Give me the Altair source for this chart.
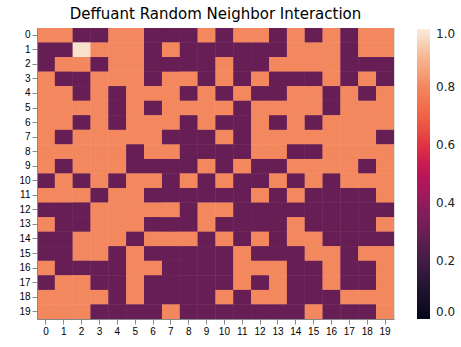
import altair as alt
import pandas as pd

TITLE = "Deffuant Random Neighbor Interaction"

# Opinion level of each agent on the 20x20 lattice:
# h = high cluster, l = low cluster, x = outlier agent
opinion_levels = {"h": 0.80, "l": 0.29, "x": 0.98}

grid_rows = [
    "hhllhhlllh" "lhhlhlhlhh",
    "llxhhhlhll" "llllhhhlhh",
    "lhhlhhllll" "hllhhhhlll",
    "hllhhhlhhl" "hlhlllhlhl",
    "hhlhlhhhlh" "lhllhhlhlh",
    "hhhhlhlhhh" "hlhhhhlhhh",
    "hhlhlhhhlh" "llhlhlhhhh",
    "hlhhhhhlll" "hlhhhhhhhl",
    "hhhhhlhhll" "llhhllhhhh",
    "hlhhhllllh" "lhllhhhhlh",
    "lhlhlhhlhl" "hllhlhlhhh",
    "hhhlhhllll" "llhlhllllh",
    "lllhhhhhlh" "hlllllllll",
    "hllhhhlllh" "llllhllllh",
    "llhhhlhhhl" "hlhlhhllll",
    "llhhlhllll" "lhlllhhlhh",
    "hllllhhlll" "lhhhllhllh",
    "lhhllhllll" "lhlhllhllh",
    "hhhhlhllll" "hlhhlllhhh",
    "hhhllllhll" "lllllhlllh",
]

row_labels = list(range(20))
col_labels = list(range(20))
colorbar_ticks = [0.0, 0.2, 0.4, 0.6, 0.8, 1.0]

# "rocket"-style sequential colour ramp
ramp_stops = [0.0, 0.1, 0.2, 0.3, 0.4, 0.5, 0.6, 0.7, 0.8, 0.9, 1.0]
ramp_colors = [
    "#03051a", "#1f1330", "#431b45", "#6a1e56", "#921b5c", "#bb1657",
    "#e13342", "#f06245", "#f3875e", "#f6b591", "#faebdd",
]

records = []
for r, line in zip(row_labels, grid_rows):
    for c, code in zip(col_labels, line):
        records.append({"row": r, "col": c, "opinion": opinion_levels[code]})
df = pd.DataFrame(records)

FONT = "DejaVu Sans"
TEXT = "#222222"

base = alt.Chart(df).mark_rect().encode(
    x=alt.X(
        "col:O",
        sort=col_labels,
        title=None,
        scale=alt.Scale(paddingInner=0, paddingOuter=0),
        axis=alt.Axis(labelAngle=0, orient="bottom"),
    ),
    y=alt.Y(
        "row:O",
        sort=row_labels,
        title=None,
        scale=alt.Scale(paddingInner=0, paddingOuter=0),
        axis=alt.Axis(orient="left"),
    ),
    color=alt.Color(
        "opinion:Q",
        scale=alt.Scale(domain=ramp_stops, range=ramp_colors),
        legend=alt.Legend(
            type="gradient",
            orient="none",
            legendX=380,
            legendY=1,
            direction="vertical",
            title=None,
            values=colorbar_ticks,
            format=".1f",
            gradientLength=290,
            gradientThickness=13,
            gradientStrokeWidth=0,
            labelOffset=6,
            labelBaseline="middle",
            labelFont=FONT,
            labelFontSize=12,
            labelColor=TEXT,
            padding=0,
        ),
    ),
)

# the cells are painted twice so antialiased seams between neighbours vanish
heat = alt.layer(base, base).properties(
    width=357,
    height=291,
    title=alt.TitleParams(
        TITLE,
        font=FONT,
        fontSize=15,
        fontWeight="normal",
        color="#000000",
        anchor="middle",
        frame="group",
        offset=6,
    ),
    padding={"left": 37, "top": 28, "right": 67, "bottom": 28},
    autosize="none",
)

chart = heat.configure_view(stroke=None).configure_axis(
    domain=False,
    grid=False,
    ticks=True,
    tickSize=3.5,
    tickColor="#333333",
    tickWidth=1,
    labelFont=FONT,
    labelFontSize=12,
    labelColor=TEXT,
    labelPadding=3,
).configure(background="white")

chart.save("out.html", embed_options={"renderer": "svg", "actions": False})
